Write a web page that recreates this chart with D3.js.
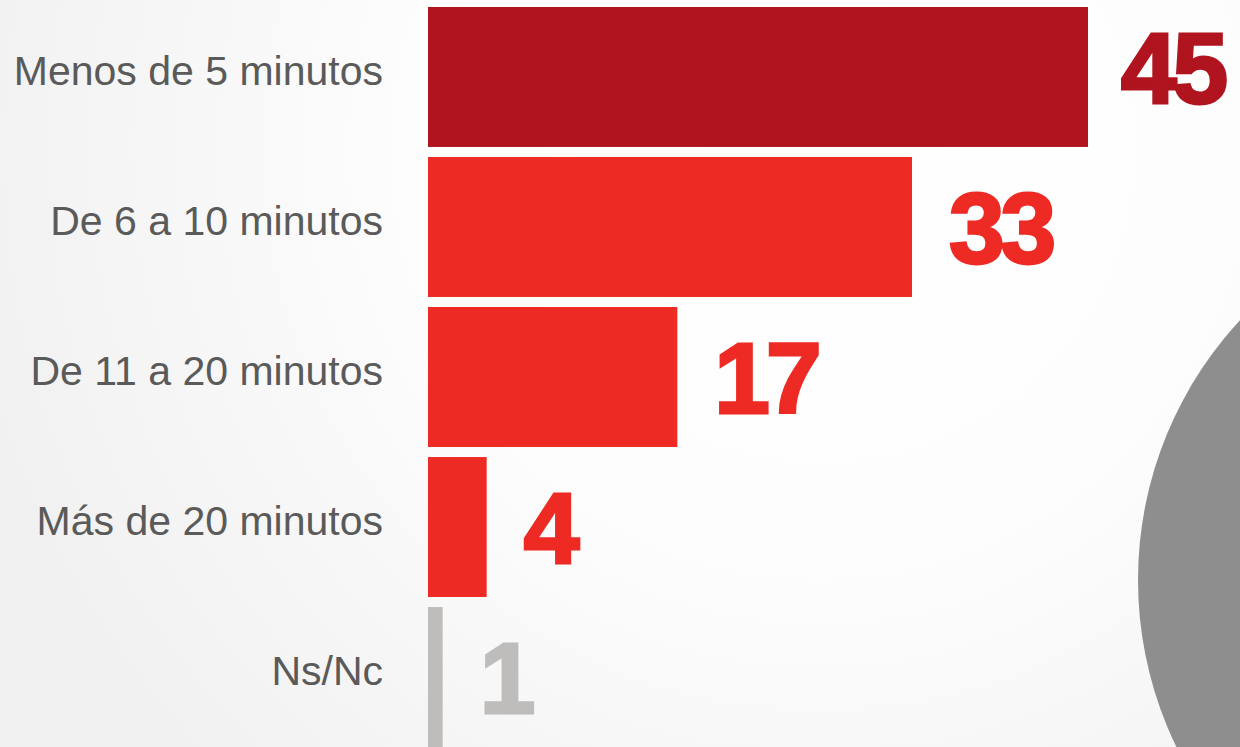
<!DOCTYPE html>
<html lang="es">
<head>
    <meta charset="UTF-8">
    <title>Tiempo</title>
    <script src="https://cdnjs.cloudflare.com/ajax/libs/d3/7.8.5/d3.min.js"></script>
    <style>
        html, body {
            margin: 0;
            padding: 0;
            overflow: hidden;
        }
        svg {
            display: block;
        }
    </style>
</head>
<body>
    <div id="chart"></div>

    <script>
        // Data
        const categories = ["Menos de 5 minutos", "De 6 a 10 minutos", "De 11 a 20 minutos", "Más de 20 minutos", "Ns/Nc"];
        const values = [45, 33, 17, 4, 1];
        const barColors = ["#b0141f", "#ee2a24", "#ee2a24", "#ee2a24", "#bebdbb"];

        const W = 1240, H = 747;

        const svg = d3.select("#chart")
            .append("svg")
                .attr("width", W)
                .attr("height", H);

        // Background gradient
        const defs = svg.append("defs");
        const bg = defs.append("radialGradient")
            .attr("id", "bg")
            .attr("gradientUnits", "userSpaceOnUse")
            .attr("cx", 820).attr("cy", 150).attr("r", 900);
        bg.append("stop").attr("offset", "0%").attr("stop-color", "#ffffff");
        bg.append("stop").attr("offset", "45%").attr("stop-color", "#fdfdfd");
        bg.append("stop").attr("offset", "100%").attr("stop-color", "#f0f0f0");

        svg.append("rect")
            .attr("width", W)
            .attr("height", H)
            .attr("fill", "url(#bg)");

        // Decorative circle on the right edge
        svg.append("circle")
            .attr("cx", 1520)
            .attr("cy", 580)
            .attr("r", 382)
            .attr("fill", "#8e8e8e");

        // Scales
        const x = d3.scaleLinear()
            .domain([0, 45])
            .range([428, 1088]);

        const y = d3.scaleBand()
            .domain(categories)
            .range([7, 747])
            .paddingInner(0.067)
            .paddingOuter(0);

        // Bars
        svg.selectAll(".bar")
            .data(categories)
            .join("rect")
                .attr("class", "bar")
                .attr("x", x(0))
                .attr("y", d => y(d))
                .attr("width", (d, i) => x(values[i]) - x(0))
                .attr("height", y.bandwidth())
                .attr("fill", (d, i) => barColors[i]);

        // Category labels
        svg.selectAll(".cat")
            .data(categories)
            .join("text")
                .attr("class", "cat")
                .attr("x", 383)
                .attr("y", d => y(d) + y.bandwidth() / 2 + 8)
                .attr("text-anchor", "end")
                .style("font-family", "'Liberation Sans', Arial, sans-serif")
                .style("font-size", "41px")
                .attr("fill", "#5a5a5a")
                .text(d => d);

        // Value labels
        svg.selectAll(".val")
            .data(categories)
            .join("text")
                .attr("class", "val")
                .attr("x", (d, i) => x(values[i]) + (i === 0 ? 33 : 37))
                .attr("y", (d, i) => y(d) + y.bandwidth() / 2 + 36 - (i === 0 ? 10 : 0))
                .style("font-family", "'Liberation Sans', Arial, sans-serif")
                .style("font-size", "100px")
                .style("font-weight", "bold")
                .style("letter-spacing", "-4px")
                .attr("fill", (d, i) => barColors[i])
                .attr("stroke", (d, i) => barColors[i])
                .attr("stroke-width", 3)
                .text((d, i) => values[i]);
    </script>
</body>
</html>
